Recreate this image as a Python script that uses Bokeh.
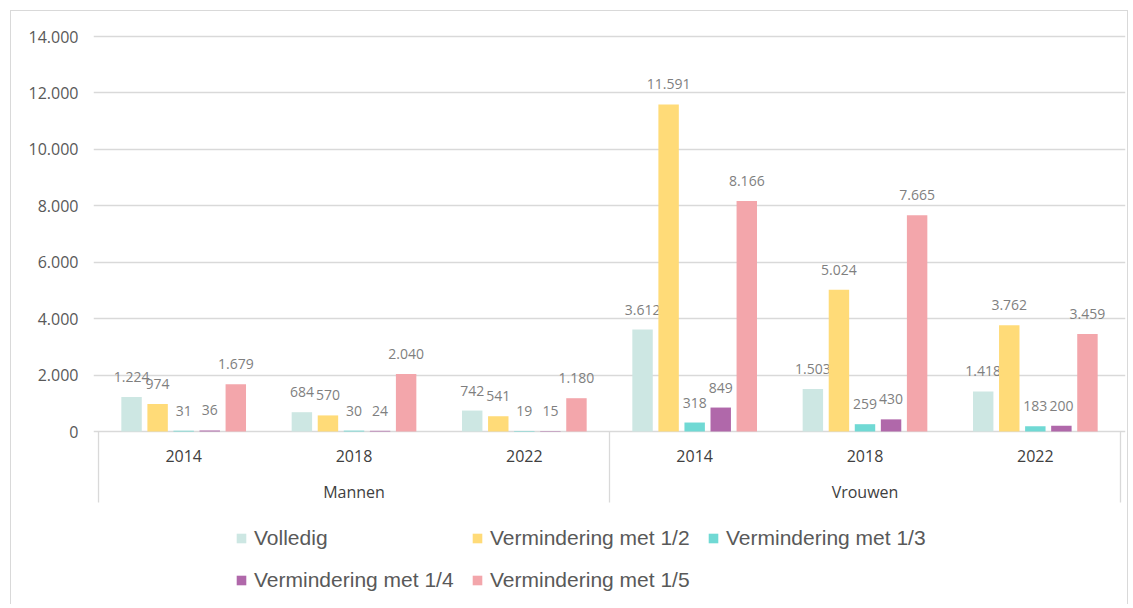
from bokeh.plotting import figure
from bokeh.models import (FactorRange, Range1d, ColumnDataSource, FixedTicker,
                          CustomJSTickFormatter, Legend, LegendItem)
from bokeh.transform import dodge
from bokeh.core.properties import value
from bokeh.embed import file_html
from bokeh.resources import INLINE

# ---------------- data ----------------
groups = ["Mannen", "Vrouwen"]
years = ["2014", "2018", "2022"]
series_names = ["Volledig", "Vermindering met 1/2", "Vermindering met 1/3",
                "Vermindering met 1/4", "Vermindering met 1/5"]
volledig = [1224, 684, 742, 3612, 1503, 1418]
verm_1_2 = [974, 570, 541, 11591, 5024, 3762]
verm_1_3 = [31, 30, 19, 318, 259, 183]
verm_1_4 = [36, 24, 15, 849, 430, 200]
verm_1_5 = [1679, 2040, 1180, 8166, 7665, 3459]
y_ticks = [0, 2000, 4000, 6000, 8000, 10000, 12000, 14000]

series_values = [volledig, verm_1_2, verm_1_3, verm_1_4, verm_1_5]
colors = ["#CDE7E3", "#FFDB78", "#70D9D4", "#B068AA", "#F3A6AB"]

factors = [(g, y) for g in groups for y in years]


def fmt(v):
    return f"{v:,}".replace(",", ".")


# ---------------- layout constants ----------------
W, H = 1118, 594
k = 395 / 14000.0          # px per unit
y_end = 14000 + 16 / k
y_start = -174 / k
sep_bottom = -71 / k

FONT = value("Open Sans")

p = figure(
    x_range=FactorRange(*factors, range_padding=0.0294, range_padding_units="absolute",
                        factor_padding=0, group_padding=0),
    y_range=Range1d(y_start, y_end),
    width=W, height=H, output_backend="svg", toolbar_location=None,
    x_axis_location=None,
    min_border_left=82, min_border_right=4, min_border_top=9, min_border_bottom=0,
    outline_line_color=None, background_fill_color="white", border_fill_color="white",
)
p.styles = {"border": "1px solid #d9d9d9", "border-bottom": "none",
            "margin-left": "10px", "margin-top": "10px"}

# y axis
p.yaxis.ticker = FixedTicker(ticks=y_ticks)
p.yaxis.formatter = CustomJSTickFormatter(
    code="return String(Math.round(tick)).replace(/\\B(?=(\\d{3})+(?!\\d))/g, '.');")
p.yaxis.axis_line_color = None
p.yaxis.major_tick_line_color = None
p.yaxis.minor_tick_line_color = None
p.yaxis.major_label_standoff = 9
p.yaxis.major_label_text_font = "Open Sans"
p.yaxis.major_label_text_font_size = "16px"
p.yaxis.major_label_text_color = "#595959"

p.ygrid.ticker = FixedTicker(ticks=y_ticks)
p.ygrid.grid_line_color = "#d9d9d9"
p.ygrid.grid_line_width = 1.3
p.xgrid.visible = False

# bars
offsets = [-0.306, -0.153, 0.0, 0.153, 0.306]
legend_items = []
for name, vals, col, off in zip(series_names, series_values, colors, offsets):
    src = ColumnDataSource(dict(x=factors, top=vals, label=[fmt(v) for v in vals]))
    r = p.vbar(x=dodge("x", off, range=p.x_range), top="top", width=0.12,
               source=src, fill_color=col, line_color=None)
    legend_items.append(LegendItem(label=name, renderers=[r]))
    p.text(x=dodge("x", off, range=p.x_range), y="top", text="label", source=src,
           text_align="center", text_baseline="middle", y_offset=-20,
           text_font=FONT, text_font_size="14px", text_color="#7f7f7f")

# category axis box (separators)
sep_left = ColumnDataSource(dict(x=[("Mannen", "2014"), ("Vrouwen", "2014")]))
p.segment(x0=dodge("x", -0.5, range=p.x_range), x1=dodge("x", -0.5, range=p.x_range),
          y0=0, y1=sep_bottom, source=sep_left, line_color="#d9d9d9", line_width=1.3)
sep_right = ColumnDataSource(dict(x=[("Vrouwen", "2022")]))
p.segment(x0=dodge("x", 0.5, range=p.x_range), x1=dodge("x", 0.5, range=p.x_range),
          y0=0, y1=sep_bottom, source=sep_right, line_color="#d9d9d9", line_width=1.3)

# category labels
year_src = ColumnDataSource(dict(x=factors, t=[f[1] for f in factors]))
p.text(x="x", y=0, text="t", source=year_src, y_offset=24,
       text_align="center", text_baseline="middle",
       text_font=FONT, text_font_size="16px", text_color="#404040")
grp_src = ColumnDataSource(dict(x=groups, t=groups))
p.text(x="x", y=0, text="t", source=grp_src, y_offset=60,
       text_align="center", text_baseline="middle",
       text_font=FONT, text_font_size="16px", text_color="#404040")

# legend
legend = Legend(items=legend_items, orientation="horizontal", ncols=3,
                location=(142, 12), padding=0, margin=0, spacing=16,
                glyph_width=12, glyph_height=12, label_standoff=7,
                label_height=26, label_width=201,
                label_text_font="Liberation Sans", label_text_font_size="21px",
                label_text_color="#595959",
                border_line_color=None, background_fill_alpha=0)
p.add_layout(legend)

open("out.html", "w").write(file_html(p, INLINE))
